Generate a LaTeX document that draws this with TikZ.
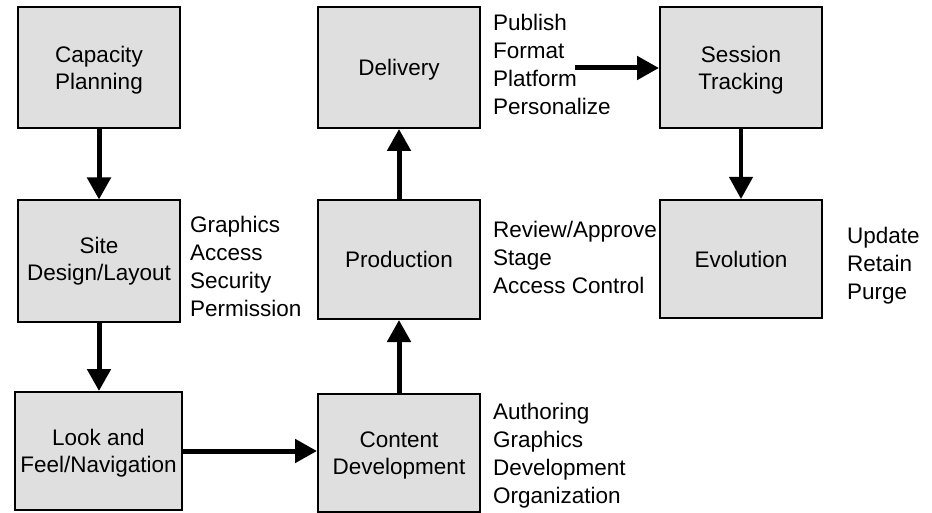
\documentclass[tikz,border=0pt]{standalone}
\usepackage{fontspec}
\setmainfont{Liberation Sans}
\usetikzlibrary{arrows.meta}
\tikzset{
  stage/.style={draw=black, line width=2pt, fill=gray!25, minimum width=162pt,
    minimum height=121pt, align=center, inner sep=2pt,
    font=\fontsize{22.5}{27}\selectfont},
  lowtext/.style={text depth=-5pt},
  notes/.style={anchor=north west, align=left, inner sep=0pt,
    font=\fontsize{22.5}{28}\selectfont},
  flow/.style={line width=5pt, -{Triangle[width=23pt,length=22pt]}},
}

\begin{document}
\begin{tikzpicture}[x=1pt, y=-1pt]
\useasboundingbox (0,0) rectangle (932,513);

% Left column
\node[stage, lowtext] (capplan) at (99,67.5) {Capacity\\Planning};
\node[stage] (sitedes) at (99,261) {Site\\Design/Layout};
\node[stage, lowtext, minimum width=167pt, minimum height=118pt] (lookfeel) at (98.5,451) {Look and\\Feel/Navigation};
\node[notes] (sitenotes) at (190,215.5) {Graphics\\Access\\Security\\Permission};

% Middle column
\node[stage, lowtext] (delivery) at (399,67.5) {Delivery};
\node[stage, minimum height=119pt] (production) at (399,259.5) {Production};
\node[stage, lowtext, minimum height=118pt] (contdev) at (399,453) {Content\\Development};
\node[notes] (delnotes) at (493,13.5) {Publish\\Format\\Platform\\Personalize};
\node[notes] (prodnotes) at (493,220.5) {Review/Approve\\Stage\\Access Control};
\node[notes] (contnotes) at (493,402.5) {Authoring\\Graphics\\Development\\Organization};

% Right column
\node[stage, lowtext] (session) at (741,67.5) {Session\\Tracking};
\node[stage, minimum height=118pt] (evolution) at (741,259) {Evolution};
\node[notes] (evonotes) at (847,226.5) {Update\\Retain\\Purge};

% Flow arrows
\draw[flow] (capplan) -- (sitedes);
\draw[flow] (sitedes.south) -- (sitedes.south |- lookfeel.north);
\draw[flow] (lookfeel.east) -- (lookfeel.east -| contdev.west);
\draw[flow] (contdev) -- (production);
\draw[flow] (production) -- (delivery);
\coordinate (pubend) at (575,68);
\draw[flow] (pubend) -- (pubend -| session.west);
\draw[flow, line width=4pt] (session) -- (evolution);
\end{tikzpicture}
\end{document}
